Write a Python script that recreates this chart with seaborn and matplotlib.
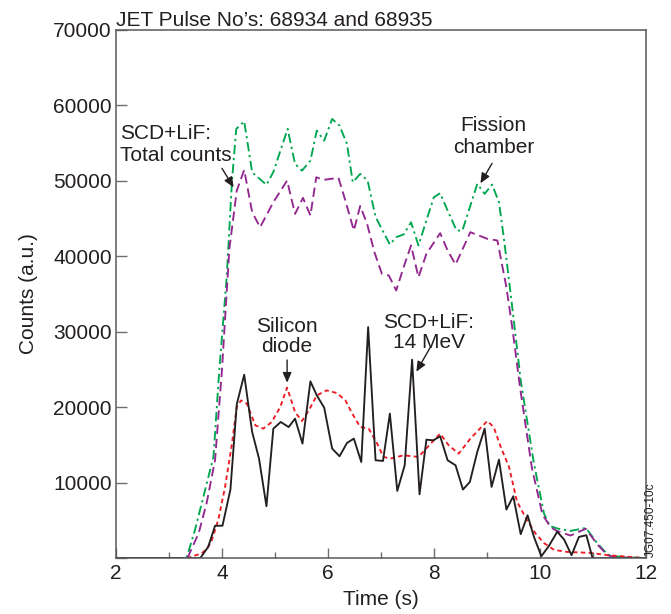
import matplotlib
matplotlib.use("Agg")
import matplotlib.pyplot as plt
from matplotlib.ticker import MultipleLocator
import seaborn as sns
import pandas as pd

# Time bases (s) and counts (a.u.) for each detector
t_fission = [2.0, 3.30, 3.34, 3.49, 3.65, 3.84, 3.95, 4.09, 4.19, 4.27, 4.42, 4.57, 4.84, 4.97,
             5.24, 5.38, 5.51, 5.67, 5.79, 5.93, 6.08, 6.22, 6.36, 6.47, 6.61, 6.75, 6.90,
             7.17, 7.29, 7.43, 7.57, 7.71, 7.86, 8.00, 8.12, 8.26, 8.43, 8.54, 8.68, 8.82,
             8.96, 9.10, 9.23, 9.32, 9.42, 9.51, 9.64, 9.89, 10.08, 10.19, 10.33, 10.58,
             10.87, 11.09, 11.28, 11.40, 12.0]
fission = [0, 0, 200, 3730, 8150, 13440, 24930, 37280, 50100, 56860, 57870, 51120, 49450, 51150,
           56860, 52230, 51330, 52660, 56640, 55310, 58180, 57290, 54870, 49800, 50900, 50020, 45200,
           41550, 42520, 42880, 44500, 41420, 44730, 47810, 48340, 46050, 43400, 43400, 46490, 49580,
           48260, 49490, 47150, 42520, 36790, 31490, 23550, 12530, 5910, 4280, 3930, 3610,
           4010, 1950, 490, 260, 0]

t_total = [2.0, 3.32, 3.36, 3.56, 3.71, 3.87, 4.00, 4.14, 4.28, 4.42, 4.57, 4.72, 4.97, 5.23,
           5.38, 5.53, 5.67, 5.78, 5.92, 6.20, 6.33, 6.49, 6.61, 6.74, 6.88, 7.02, 7.15, 7.29,
           7.43, 7.57, 7.71, 7.86, 8.12, 8.26, 8.41, 8.69, 9.01, 9.20, 9.26, 9.37, 9.48, 9.63,
           9.85, 10.05, 10.20, 10.32, 10.58, 10.87, 11.09, 11.28, 11.40, 12.0]
total = [0, 0, 200, 3300, 7270, 13010, 24930, 41000, 48700, 51430, 45830, 43840, 47150, 50020,
         45610, 47730, 45390, 50460, 50110, 50380, 47370, 43400, 46650, 44300, 40500, 37670, 37450, 35460,
         38550, 41420, 37220, 40320, 43050, 40760, 38900, 43180, 42300, 42080, 39870, 35900, 30610, 22500,
         12000, 5800, 4140, 3610, 3000, 3900, 1800, 400, 150, 0]

t_silicon = [2.0, 3.34, 3.62, 3.72, 3.80, 3.93, 4.06, 4.19, 4.28, 4.36, 4.47, 4.63, 4.78, 4.94,
             5.10, 5.23, 5.38, 5.51, 5.64, 5.79, 5.98, 6.17, 6.33, 6.46, 6.61, 6.77, 6.93, 7.05,
             7.18, 7.43, 7.71, 7.97, 8.12, 8.28, 8.47, 8.69, 8.87, 9.01, 9.13, 9.26, 9.42, 9.57,
             9.76, 9.92, 10.08, 10.27, 10.52, 10.96, 11.28, 12.0]
silicon = [0, 0, 650, 1280, 2200, 5060, 9470, 15220, 20070, 20900, 20470, 17600, 17160, 18040,
           20020, 22590, 19360, 18170, 19580, 21570, 22230, 21870, 20910, 19150, 17370, 17160, 15180, 13410,
           13190, 13630, 13410, 15390, 16500, 14950, 13850, 15840, 17160, 18170, 17370, 14800, 12080, 7500,
           5030, 3270, 2000, 1100, 830, 700, 400, 0]

t_14mev = [2.0, 3.59, 3.74, 3.87, 4.01, 4.16, 4.28, 4.42, 4.57, 4.70, 4.84, 4.97, 5.11, 5.26,
           5.38, 5.52, 5.67, 5.79, 5.93, 6.08, 6.22, 6.36, 6.49, 6.63, 6.76, 6.90, 7.04, 7.17,
           7.31, 7.45, 7.59, 7.73, 7.86, 7.99, 8.12, 8.26, 8.41, 8.55, 8.68, 8.82, 8.96, 9.09,
           9.23, 9.37, 9.50, 9.64, 9.77, 9.89, 10.03, 10.17, 10.33, 10.46, 10.60, 10.74, 10.88,
           10.99, 11.0, 12.0]
mev14 = [0, 0, 1500, 4300, 4300, 9100, 20400, 24300, 16720, 13190, 6880, 17160, 18040, 17370,
         18490, 15180, 23420, 21570, 19940, 14520, 13500, 15260, 15840, 12740, 30610, 12970, 12880, 19150,
         8910, 12310, 26290, 8470, 15700, 15610, 16140, 12970, 12310, 9090, 10100, 14070, 17160, 9440,
         13060, 6440, 8200, 3180, 5690, 2820, 260, 1600, 3500, 2470, 400, 2820, 3040,
         170, 0, 0]

x_ticks = [2, 4, 6, 8, 10, 12]
y_ticks = [0, 10000, 20000, 30000, 40000, 50000, 60000, 70000]
y_tick_labels = ["", "10000", "20000", "30000", "40000", "50000", "60000", "70000"]

INK = "#231f20"

sns.set_theme(style="white")
plt.rcParams["font.family"] = ["Liberation Sans", "DejaVu Sans"]

fig = plt.figure(figsize=(6.71, 6.14), dpi=100)
ax = fig.add_axes([0.1729, 0.0909, 0.7894, 0.8607])

series = [
    (t_fission, fission, "#00a650", (0, (5, 2, 1.2, 2))),
    (t_total, total, "#92278f", (0, (5, 2.6))),
    (t_silicon, silicon, "#ed1c24", (0, (2.4, 1.8))),
    (t_14mev, mev14, INK, "-"),
]
for t, v, col, ls in series:
    df = pd.DataFrame({"t": t, "v": v})
    sns.lineplot(data=df, x="t", y="v", ax=ax, color=col, linestyle=ls,
                 linewidth=1.35, estimator=None, sort=False)

ax.set_xlim(2, 12)
ax.set_ylim(0, 70000)
ax.set_xticks(x_ticks)
ax.set_xticklabels([str(v) for v in x_ticks])
ax.xaxis.set_minor_locator(MultipleLocator(1))
ax.set_yticks(y_ticks)
ax.set_yticklabels(y_tick_labels)

ax.tick_params(axis="x", which="major", direction="in", length=7.5, width=1,
               color="#6d6e71", labelsize=15, labelcolor=INK, pad=4, bottom=True)
ax.tick_params(axis="x", which="minor", direction="in", length=4.5, width=1,
               color="#6d6e71", bottom=True)
ax.tick_params(axis="y", which="major", direction="in", length=8, width=1,
               color="#6d6e71", labelsize=15, labelcolor=INK, pad=3, left=True)

for s in ax.spines.values():
    s.set_color("#58595b")
    s.set_linewidth(1.1)
    s.set_visible(True)

ax.set_xlabel("Time (s)", fontsize=15, color=INK, labelpad=5)
ax.set_ylabel("Counts (a.u.)", fontsize=15, color=INK, labelpad=11)
ax.set_title("JET Pulse No\u2019s: 68934 and 68935", loc="left", fontsize=15,
             color=INK, pad=1)

arrow = dict(arrowstyle="-|>,head_length=0.5,head_width=0.22", color=INK, lw=1.0,
             shrinkA=0, shrinkB=0)
ax.text(2.08, 54860, "SCD+LiF:\nTotal counts", fontsize=15, color=INK,
        ha="left", va="center", linespacing=1.2)
ax.annotate("", xy=(4.22, 49130), xytext=(4.00, 51640), arrowprops=arrow)

ax.text(9.13, 55830, "Fission\nchamber", fontsize=15, color=INK,
        ha="center", va="center", linespacing=1.2)
ax.annotate("", xy=(8.88, 49660), xytext=(9.10, 52300), arrowprops=arrow)

ax.text(5.23, 29340, "Silicon\ndiode", fontsize=15, color=INK,
        ha="center", va="center", linespacing=1.1)
ax.annotate("", xy=(5.23, 23250), xytext=(5.23, 26250), arrowprops=arrow)

ax.text(7.90, 29900, "SCD+LiF:\n14 MeV", fontsize=15, color=INK,
        ha="center", va="center", linespacing=1.1)
ax.annotate("", xy=(7.67, 24700), xytext=(7.94, 28010), arrowprops=arrow)

fig.text(0.9705, 0.0935, "JG07.450-10c", rotation=90, fontsize=8.5, color=INK,
         ha="center", va="bottom")

fig.savefig("out.png", dpi=100)
